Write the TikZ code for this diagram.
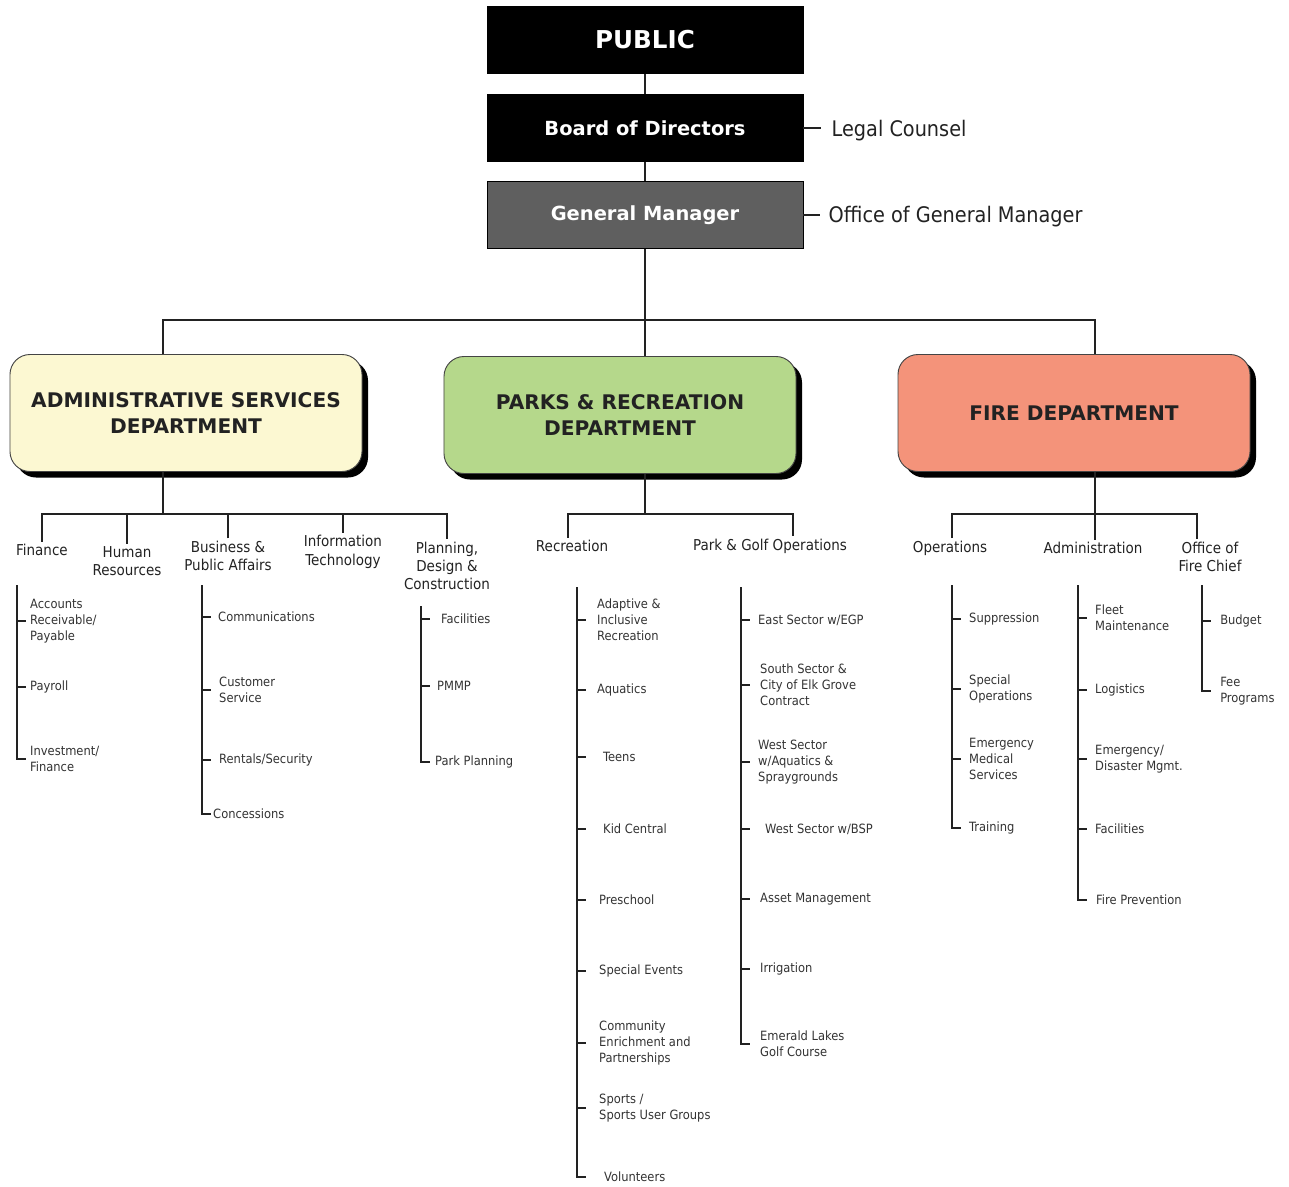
\documentclass[tikz,border=0pt]{standalone}
\usepackage{fontspec}
\setmainfont{DejaVu Sans}
\newfontfamily\condfont{DejaVu Sans Condensed}
\usepackage{xcolor}
\usetikzlibrary{positioning,shadows}
\definecolor{gmgray}{HTML}{5F5F5F}
\definecolor{admincream}{HTML}{FCF8D2}
\definecolor{parksgreen}{HTML}{B5D88B}
\definecolor{firesalmon}{HTML}{F4937A}
\definecolor{bk90}{HTML}{222222}
\definecolor{bk80}{HTML}{333333}
\definecolor{bk60}{HTML}{444444}
\tikzset{
  topbox/.style={
    rectangle, draw=black, fill=#1, thick, text=white,
    minimum width=9.48cm, minimum height=2.02cm,
    font=\fontsize{16.6}{20}\selectfont\bfseries, inner sep=0pt
  },
  topbox/.default=black,
  deptbox/.style={
    rectangle, rounded corners=0.6cm, draw=bk60, fill=#1, thick,
    minimum width=10.56cm, minimum height=3.51cm,
    font=\fontsize{17.2}{22}\selectfont\bfseries, text=bk90,
    align=center, inner sep=0pt,
    drop shadow={shadow xshift=0.18cm, shadow yshift=-0.18cm,
      fill=black, opacity=1}
  },
  deptbox/.default=admincream,
  sidelabel/.style={
    font=\condfont\fontsize{18.3}{22}\selectfont, text=bk90,
    inner sep=0pt, anchor=west
  },
  unitlabel/.style={
    font=\condfont\fontsize{12.8}{15.7}\selectfont, text=bk90,
    align=center, inner sep=2pt
  },
  itembox/.style={
    font=\condfont\fontsize{10.9}{13.6}\selectfont, text=bk80,
    align=left, inner sep=0pt, anchor=west
  },
  orgline/.style={line width=1.5pt, draw=bk90},
}
\begin{document}
\begin{tikzpicture}[x=0.03cm, y=-0.03cm]
\useasboundingbox (0,0) rectangle (1289,1187);
% top of the chart
\node[topbox, font=\fontsize{21}{25}\selectfont\bfseries] (public) at (645,40) {PUBLIC};
\node[topbox] (board) at (645,128) {Board of Directors};
\node[topbox=gmgray] (gm) at (645,215) {General Manager};
\node[sidelabel, right=0.84cm of board.east, yshift=-0.08cm] (legal) {Legal Counsel};
\node[sidelabel, right=0.75cm of gm.east, yshift=-0.06cm] (ogm) {Office of General Manager};
\draw[orgline] (public) -- (board);
\draw[orgline] (board) -- (gm);
\draw[orgline] (board.east) -- ([xshift=-0.3cm]legal.west |- board.east);
\draw[orgline] (gm.east) -- ([xshift=-0.24cm]ogm.west |- gm.east);

% departments
\node[deptbox=admincream] (admin) at (186,413) {ADMINISTRATIVE SERVICES\\DEPARTMENT};
\node[deptbox=parksgreen] (parks) at (620,415) {PARKS \& RECREATION\\DEPARTMENT};
\node[deptbox=firesalmon] (fire) at (1074,413) {FIRE DEPARTMENT};
\coordinate (busL) at (163,320);
\coordinate (busR) at (1095,320);
\draw[orgline] (gm.south) -- (gm.south |- parks.north);
\draw[orgline] (busL |- admin.north) -- (busL) -- (busR) -- (busR |- fire.north);

% administrative services
\node[unitlabel] (fin) at (42,550) {Finance};
\node[unitlabel] (hr) at (127,561) {Human\\Resources};
\node[unitlabel] (bpa) at (228,556) {Business \&\\Public Affairs};
\node[unitlabel] (it) at (343,552) {Information\\Technology};
\node[unitlabel] (plan) at (447,566) {Planning,\\Design \&\\Construction};
\coordinate (asbus) at (163,514);
\draw[orgline] (asbus |- admin.south) -- (asbus);
\draw[orgline] (fin.north) -- (fin.north |- asbus) -- (plan.north |- asbus) -- (plan.north);
\draw[orgline] (hr.north) -- (hr.north |- asbus);
\draw[orgline] (bpa.north) -- (bpa.north |- asbus);
\draw[orgline] (it.north) -- (it.north |- asbus);

\node[itembox] (finar) at (30,621) {Accounts\\Receivable/\\Payable};
\node[itembox] (finpay) at (30,687) {Payroll};
\node[itembox] (fininv) at (30,759) {Investment/\\Finance};
\coordinate (finsp) at (17,585);
\draw[orgline] (finsp) -- (finsp |- fininv.west) -- ++(9,0);
\draw[orgline] (finsp |- finar.west) -- ++(9,0);
\draw[orgline] (finsp |- finpay.west) -- ++(9,0);

\node[itembox] (bpacom) at (218,617) {Communications};
\node[itembox] (bpacs) at (219,690) {Customer\\Service};
\node[itembox] (bparen) at (219,760) {Rentals/Security};
\node[itembox] (bpacon) at (213,814) {Concessions};
\coordinate (bpasp) at (202,585);
\draw[orgline] (bpasp) -- (bpasp |- bpacon.west) -- ++(9,0);
\draw[orgline] (bpasp |- bpacom.west) -- ++(9,0);
\draw[orgline] (bpasp |- bpacs.west) -- ++(9,0);
\draw[orgline] (bpasp |- bparen.west) -- ++(9,0);

\node[itembox] (planfac) at (441,619) {Facilities};
\node[itembox] (planpm) at (437,686) {PMMP};
\node[itembox] (planpp) at (435,762) {Park Planning};
\coordinate (plansp) at (421,606);
\draw[orgline] (plansp) -- (plansp |- planpp.west) -- ++(9,0);
\draw[orgline] (plansp |- planfac.west) -- ++(9,0);
\draw[orgline] (plansp |- planpm.west) -- ++(9,0);

% parks & recreation
\node[unitlabel] (rec) at (572,546) {Recreation};
\node[unitlabel] (pgo) at (770,546) {Park \& Golf Operations};
\coordinate (prbus) at (645,514);
\coordinate (prL) at (568,514);
\coordinate (prR) at (793,514);
\draw[orgline] (prbus |- parks.south) -- (prbus);
\draw[orgline] (prL |- rec.north) -- (prL) -- (prR) -- (prR |- pgo.north);

\node[itembox] (recad) at (597,620) {Adaptive \&\\Inclusive\\Recreation};
\node[itembox] (recaq) at (597,690) {Aquatics};
\node[itembox] (recte) at (603,757) {Teens};
\node[itembox] (recki) at (603,829) {Kid Central};
\node[itembox] (recpr) at (599,900) {Preschool};
\node[itembox] (recse) at (599,971) {Special Events};
\node[itembox] (recce) at (599,1043) {Community\\Enrichment and\\Partnerships};
\node[itembox] (recsp) at (599,1108) {Sports /\\Sports User Groups};
\node[itembox] (recvo) at (604,1177) {Volunteers};
\coordinate (recsp0) at (577,587);
\draw[orgline] (recsp0) -- (recsp0 |- recvo.west) -- ++(9,0);
\draw[orgline] (recsp0 |- recad.west) -- ++(9,0);
\draw[orgline] (recsp0 |- recaq.west) -- ++(9,0);
\draw[orgline] (recsp0 |- recte.west) -- ++(9,0);
\draw[orgline] (recsp0 |- recki.west) -- ++(9,0);
\draw[orgline] (recsp0 |- recpr.west) -- ++(9,0);
\draw[orgline] (recsp0 |- recse.west) -- ++(9,0);
\draw[orgline] (recsp0 |- recce.west) -- ++(9,0);
\draw[orgline] (recsp0 |- recsp.west) -- ++(9,0);

\node[itembox] (pgoes) at (758,620) {East Sector w/EGP};
\node[itembox] (pgoss) at (760,685) {South Sector \&\\City of Elk Grove\\Contract};
\node[itembox] (pgows) at (758,762) {West Sector\\w/Aquatics \&\\Spraygrounds};
\node[itembox] (pgobs) at (765,829) {West Sector w/BSP};
\node[itembox] (pgoam) at (760,899) {Asset Management};
\node[itembox] (pgoir) at (760,969) {Irrigation};
\node[itembox] (pgoel) at (760,1044) {Emerald Lakes\\Golf Course};
\coordinate (pgosp) at (741,587);
\draw[orgline] (pgosp) -- (pgosp |- pgoel.west) -- ++(9,0);
\draw[orgline] (pgosp |- pgoes.west) -- ++(9,0);
\draw[orgline] (pgosp |- pgoss.west) -- ++(9,0);
\draw[orgline] (pgosp |- pgows.west) -- ++(9,0);
\draw[orgline] (pgosp |- pgobs.west) -- ++(9,0);
\draw[orgline] (pgosp |- pgoam.west) -- ++(9,0);
\draw[orgline] (pgosp |- pgoir.west) -- ++(9,0);

% fire department
\node[unitlabel] (ops) at (950,548) {Operations};
\node[unitlabel] (adm) at (1093,548) {Administration};
\node[unitlabel] (chief) at (1210,557) {Office of\\Fire Chief};
\coordinate (fbus) at (1095,514);
\coordinate (fbL) at (952,514);
\coordinate (fbR) at (1197,514);
\draw[orgline] (fbus |- fire.south) -- (fbus) -- (fbus |- adm.north);
\draw[orgline] (fbL |- ops.north) -- (fbL) -- (fbR) -- (fbR |- chief.north);

\node[itembox] (opssu) at (969,619) {Suppression};
\node[itembox] (opsso) at (969,689) {Special\\Operations};
\node[itembox] (opsem) at (969,759) {Emergency\\Medical\\Services};
\node[itembox] (opstr) at (969,828) {Training};
\coordinate (opssp) at (952,585);
\draw[orgline] (opssp) -- (opssp |- opstr.west) -- ++(9,0);
\draw[orgline] (opssp |- opssu.west) -- ++(9,0);
\draw[orgline] (opssp |- opsso.west) -- ++(9,0);
\draw[orgline] (opssp |- opsem.west) -- ++(9,0);

\node[itembox] (admfl) at (1095,618) {Fleet\\Maintenance};
\node[itembox] (admlo) at (1095,690) {Logistics};
\node[itembox] (admem) at (1095,759) {Emergency/\\Disaster Mgmt.};
\node[itembox] (admfa) at (1095,829) {Facilities};
\node[itembox] (admfp) at (1096,900) {Fire Prevention};
\coordinate (admsp) at (1078,585);
\draw[orgline] (admsp) -- (admsp |- admfp.west) -- ++(9,0);
\draw[orgline] (admsp |- admfl.west) -- ++(9,0);
\draw[orgline] (admsp |- admlo.west) -- ++(9,0);
\draw[orgline] (admsp |- admem.west) -- ++(9,0);
\draw[orgline] (admsp |- admfa.west) -- ++(9,0);

\node[itembox] (chfbu) at (1220,621) {Budget};
\node[itembox] (chffp) at (1220,691) {Fee\\Programs};
\coordinate (chfsp) at (1202,585);
\draw[orgline] (chfsp) -- (chfsp |- chffp.west) -- ++(9,0);
\draw[orgline] (chfsp |- chfbu.west) -- ++(9,0);
\end{tikzpicture}
\end{document}
